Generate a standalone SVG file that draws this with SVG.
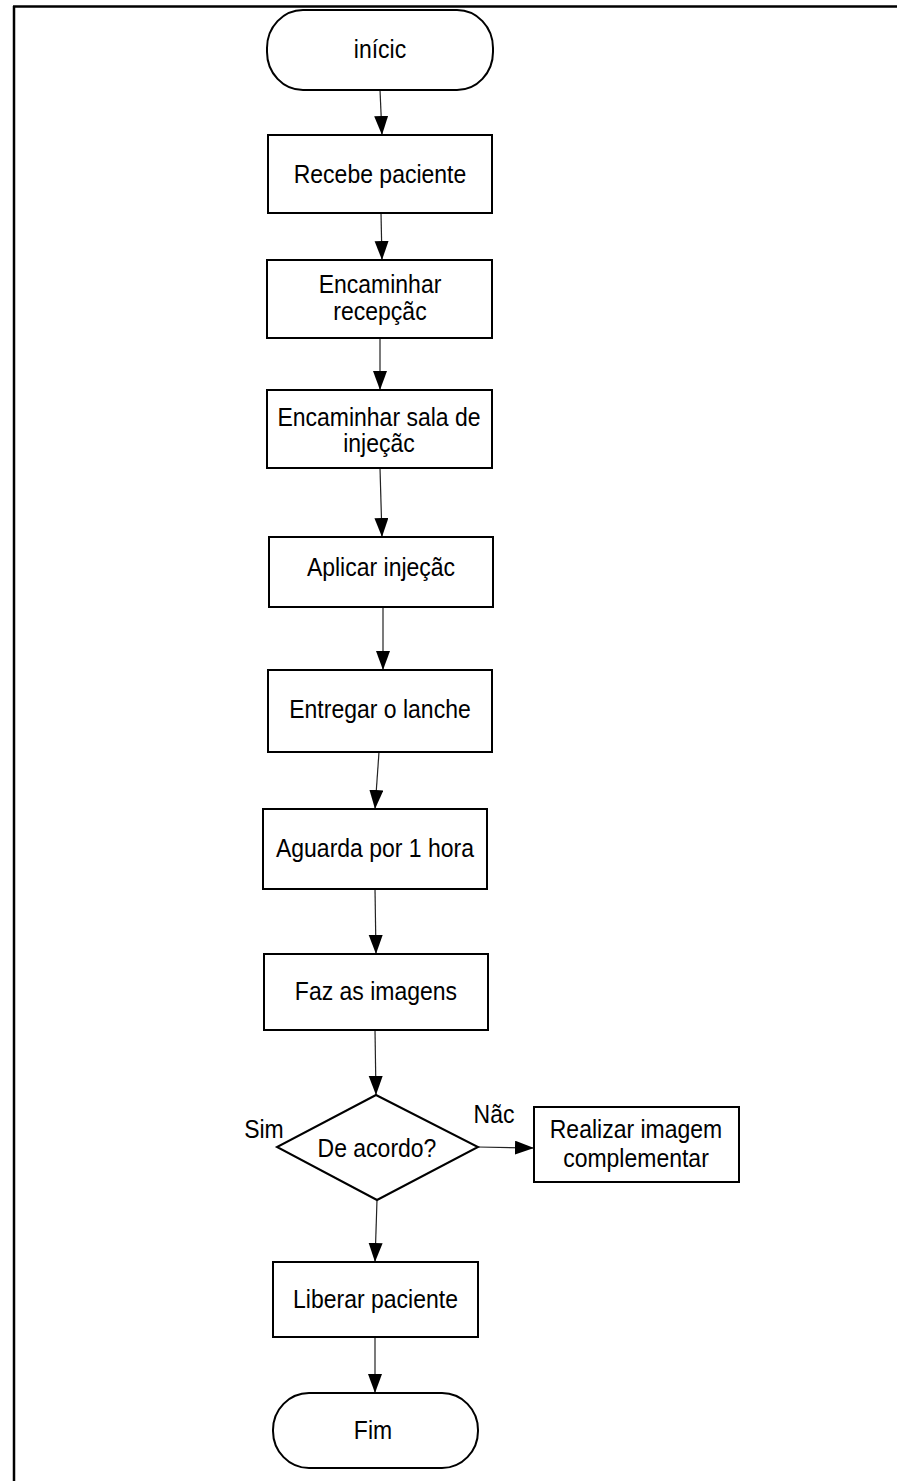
<svg xmlns="http://www.w3.org/2000/svg" width="897" height="1481" viewBox="0 0 897 1481">
<style>
.shape{fill:#fff;stroke:#000;stroke-width:2}
.conn{stroke:#222;stroke-width:1.2;fill:none;marker-end:url(#arr)}
.lbl{font-family:"Liberation Sans",Arial,sans-serif;font-size:23px;fill:#000;text-anchor:middle}
.frame{stroke:#000;stroke-width:2.5;fill:none}
</style>
<defs>
<marker id="arr" markerUnits="userSpaceOnUse" markerWidth="20" markerHeight="16" refX="19" refY="7" orient="auto">
<path d="M0,0 L19,7 L0,14 Z" fill="#000"/>
</marker>
</defs>
<rect width="897" height="1481" fill="#fff"/>
<g id="frame">
<line class="frame" x1="13" y1="6.5" x2="897" y2="6.5"/>
<line class="frame" x1="14" y1="6" x2="14" y2="1481"/>
</g>
<g id="connectors">
<line class="conn" x1="380" y1="90" x2="382" y2="135"/>
<line class="conn" x1="381" y1="213" x2="382" y2="260"/>
<line class="conn" x1="380" y1="338" x2="380" y2="390"/>
<line class="conn" x1="380" y1="468" x2="382" y2="537"/>
<line class="conn" x1="383" y1="607" x2="383" y2="670"/>
<line class="conn" x1="379" y1="752" x2="375" y2="809"/>
<line class="conn" x1="375" y1="889" x2="376" y2="954"/>
<line class="conn" x1="375" y1="1030" x2="376" y2="1095"/>
<line class="conn" x1="478" y1="1147" x2="534" y2="1148"/>
<line class="conn" x1="377" y1="1200" x2="375" y2="1262"/>
<line class="conn" x1="375" y1="1337" x2="375" y2="1393"/>
</g>
<g id="inicio">
<rect class="shape" x="267" y="10" width="226" height="80" rx="36" ry="38"/>
<text class="lbl" x="380" y="58" transform="matrix(1 0 0 1.12 0 -6.96)">inícic</text>
</g>
<g id="recebe">
<rect class="shape" x="268" y="135" width="224" height="78"/>
<text class="lbl" x="380" y="183" transform="matrix(1 0 0 1.12 0 -21.96)">Recebe paciente</text>
</g>
<g id="recepcao">
<rect class="shape" x="267" y="260" width="225" height="78"/>
<text class="lbl" x="380" y="293" transform="matrix(1 0 0 1.12 0 -35.16)">Encaminhar</text>
<text class="lbl" x="380" y="320" transform="matrix(1 0 0 1.12 0 -38.4)">recepçãc</text>
</g>
<g id="sala">
<rect class="shape" x="267" y="390" width="225" height="78"/>
<text class="lbl" x="379" y="426" transform="matrix(1 0 0 1.12 0 -51.12)">Encaminhar sala de</text>
<text class="lbl" x="379" y="452" transform="matrix(1 0 0 1.12 0 -54.24)">injeçãc</text>
</g>
<g id="aplicar">
<rect class="shape" x="269" y="537" width="224" height="70"/>
<text class="lbl" x="381" y="576" transform="matrix(1 0 0 1.12 0 -69.12)">Aplicar injeçãc</text>
</g>
<g id="lanche">
<rect class="shape" x="268" y="670" width="224" height="82"/>
<text class="lbl" x="380" y="718" transform="matrix(1 0 0 1.12 0 -86.16)">Entregar o lanche</text>
</g>
<g id="aguarda">
<rect class="shape" x="263" y="809" width="224" height="80"/>
<text class="lbl" x="375" y="857" transform="matrix(1 0 0 1.12 0 -102.84)">Aguarda por 1 hora</text>
</g>
<g id="imagens">
<rect class="shape" x="264" y="954" width="224" height="76"/>
<text class="lbl" x="376" y="1000" transform="matrix(1 0 0 1.12 0 -120)">Faz as imagens</text>
</g>
<g id="decisao">
<polygon class="shape" points="376,1095 478,1147 377,1200 277,1147"/>
<text class="lbl" x="377" y="1157" transform="matrix(1 0 0 1.12 0 -138.84)">De acordo?</text>
<text class="lbl" x="264" y="1138" transform="matrix(1 0 0 1.12 0 -136.56)">Sim</text>
<text class="lbl" x="494" y="1123" transform="matrix(1 0 0 1.12 0 -134.76)">Nãc</text>
</g>
<g id="complementar">
<rect class="shape" x="534" y="1107" width="205" height="75"/>
<text class="lbl" x="636" y="1138" transform="matrix(1 0 0 1.12 0 -136.56)">Realizar imagem</text>
<text class="lbl" x="636" y="1167" transform="matrix(1 0 0 1.12 0 -140.04)">complementar</text>
</g>
<g id="liberar">
<rect class="shape" x="273" y="1262" width="205" height="75"/>
<text class="lbl" x="375.5" y="1308" transform="matrix(1 0 0 1.12 0 -156.96)">Liberar paciente</text>
</g>
<g id="fim">
<rect class="shape" x="273" y="1393" width="205" height="75" rx="36" ry="37"/>
<text class="lbl" x="373" y="1439" transform="matrix(1 0 0 1.12 0 -172.68)">Fim</text>
</g>
</svg>
